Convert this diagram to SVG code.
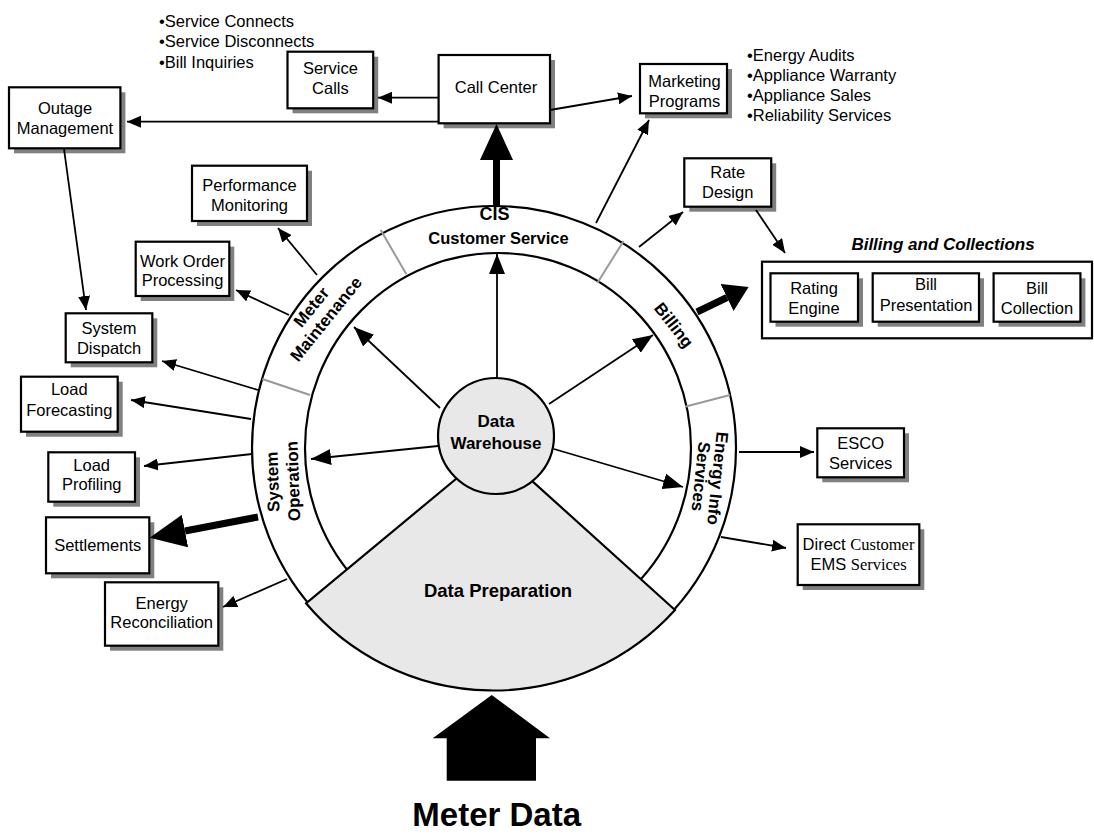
<svg xmlns="http://www.w3.org/2000/svg" width="1094" height="835" viewBox="0 0 1094 835">
<style>
.bx{fill:#fff;stroke:#000;stroke-width:2.2}
.sh{fill:#808080}
.t{font-family:"Liberation Sans",Arial,sans-serif;font-size:16.5px;text-anchor:middle;fill:#000}
.bl{font-family:"Liberation Sans",Arial,sans-serif;font-size:16.5px;fill:#000}
.b{font-weight:bold}
.rl{font-family:"Liberation Sans",Arial,sans-serif;font-size:17px;font-weight:bold;text-anchor:middle}
.ln{stroke:#000;stroke-width:1.8;fill:none}
.dv{stroke:#999;stroke-width:2}
.ring{fill:#fff;stroke:#000;stroke-width:2.2}
.gr{fill:#e8e8e8;stroke:#000;stroke-width:2.2}
</style>
<defs>
<marker id="ah" viewBox="0 0 14 12" refX="14" refY="6" markerWidth="14" markerHeight="12" markerUnits="userSpaceOnUse" orient="auto"><path d="M0,0 L14,6 L0,12 z"/></marker>
<marker id="ahL" viewBox="0 0 20 16" refX="20" refY="8" markerWidth="20" markerHeight="16" markerUnits="userSpaceOnUse" orient="auto"><path d="M0,0 L20,8 L0,16 z"/></marker>
<marker id="big" viewBox="0 0 36 33" refX="0" refY="16.5" markerWidth="36" markerHeight="33" markerUnits="userSpaceOnUse" orient="auto"><path d="M0,0 L36,16.5 L0,33 z"/></marker>
<marker id="mid" viewBox="0 0 24 30" refX="0" refY="15" markerWidth="24" markerHeight="30" markerUnits="userSpaceOnUse" orient="auto"><path d="M0,0 L24,15 L0,30 z"/></marker>
</defs>
<rect width="1094" height="835" fill="#fff"/>

<!-- wheel -->
<g id="wheel">
<circle class="ring" cx="494" cy="448" r="242"/>
<ellipse class="ring" cx="498" cy="448" rx="193" ry="195"/>
<line class="dv" x1="380.7" y1="230" x2="406.4" y2="274.3"/>
<line class="dv" x1="623.6" y1="241" x2="597.5" y2="282.7"/>
<line class="dv" x1="262.3" y1="379" x2="310" y2="395"/>
<line class="dv" x1="730" y1="395" x2="685" y2="406.7"/>
</g>
<g id="data-preparation">
<path class="gr" d="M494.5,447 L306,603.3 A245 245 0 0 0 675,610 Z"/>
<text class="t b" x="498" y="597" style="font-size:18.5px">Data Preparation</text>
</g>
<g id="data-warehouse">
<circle class="gr" cx="496" cy="436" r="58"/>
<text class="t b" x="496" y="426.5" style="font-size:17px">Data</text>
<text class="t b" x="496" y="448.5" style="font-size:17px">Warehouse</text>
</g>
<g id="ring-labels">
<text class="rl" x="494.5" y="219.5" style="font-size:18px">CIS</text>
<text class="rl" x="498.5" y="244" style="font-size:16.5px">Customer Service</text>
<g transform="translate(318.5,313) rotate(-51)"><text class="rl" x="0" y="-3.5">Meter</text><text class="rl" x="0" y="15.5">Maintenance</text></g>
<g transform="translate(674,325) rotate(52)"><text class="rl" x="0" y="6">Billing</text></g>
<g transform="translate(282.7,481.5) rotate(-92)"><text class="rl" x="0" y="-4.2">System</text><text class="rl" x="0" y="16.2">Operation</text></g>
<g transform="translate(709.5,477.5) rotate(96)"><text class="rl" x="0" y="-2.5">Energy Info</text><text class="rl" x="0" y="14.5">Services</text></g>
</g>

<!-- nodes -->
<g id="service-calls"><rect class="sh" x="292.5" y="56.7" width="85.7" height="56.6"/><rect class="bx" x="287.5" y="51.7" width="85.7" height="56.6"/><text class="t" x="330.4" y="74.3">Service</text><text class="t" x="330.4" y="94.3">Calls</text></g>
<g id="call-center"><rect class="sh" x="443.6" y="60" width="111.4" height="68.3"/><rect class="bx" x="438.6" y="55" width="111.4" height="68.3"/><text class="t" x="496" y="93.3">Call Center</text></g>
<g id="outage-management"><rect class="sh" x="14" y="92.3" width="111.4" height="61"/><rect class="bx" x="9" y="87.3" width="111.4" height="61"/><text class="t" x="65" y="114.3">Outage</text><text class="t" x="65" y="133.7">Management</text></g>
<g id="marketing-programs"><rect class="sh" x="645" y="69" width="87" height="49.3"/><rect class="bx" x="640" y="64" width="87" height="49.3"/><text class="t" x="684.5" y="86.7">Marketing</text><text class="t" x="684.5" y="106.7">Programs</text></g>
<g id="rate-design"><rect class="sh" x="689.3" y="163.3" width="86.9" height="48.4"/><rect class="bx" x="684.3" y="158.3" width="86.9" height="48.4"/><text class="t" x="727.7" y="177.7">Rate</text><text class="t" x="727.7" y="198.3">Design</text></g>
<g id="billing-collections">
<text class="t b" x="943" y="249.5" style="font-size:17px;font-style:italic">Billing and Collections</text>
<rect class="bx" x="762" y="261.7" width="330" height="76.6"/>
<g id="rating-engine"><rect class="sh" x="775.5" y="278.3" width="87.5" height="48.4"/><rect class="bx" x="770.5" y="273.3" width="87.5" height="48.4"/><text class="t" x="814" y="293.7">Rating</text><text class="t" x="814" y="314.3">Engine</text></g>
<g id="bill-presentation"><rect class="sh" x="877.7" y="278.3" width="106.3" height="48.4"/><rect class="bx" x="872.7" y="273.3" width="106.3" height="48.4"/><text class="t" x="926" y="290">Bill</text><text class="t" x="926" y="311">Presentation</text></g>
<g id="bill-collection"><rect class="sh" x="998.6" y="278.3" width="86.8" height="48.4"/><rect class="bx" x="993.6" y="273.3" width="86.8" height="48.4"/><text class="t" x="1037" y="293.7">Bill</text><text class="t" x="1037" y="314.3">Collection</text></g>
</g>
<g id="performance-monitoring"><rect class="sh" x="197" y="170.7" width="115" height="55.3"/><rect class="bx" x="192" y="165.7" width="115" height="55.3"/><text class="t" x="249.5" y="191">Performance</text><text class="t" x="249.5" y="211">Monitoring</text></g>
<g id="work-order-processing"><rect class="sh" x="140.7" y="246.7" width="93.6" height="54.3"/><rect class="bx" x="135.7" y="241.7" width="93.6" height="54.3"/><text class="t" x="182.5" y="266.7">Work Order</text><text class="t" x="182.5" y="286">Processing</text></g>
<g id="system-dispatch"><rect class="sh" x="70.7" y="318.3" width="86.6" height="49"/><rect class="bx" x="65.7" y="313.3" width="86.6" height="49"/><text class="t" x="109" y="334.3">System</text><text class="t" x="109" y="354.3">Dispatch</text></g>
<g id="load-forecasting"><rect class="sh" x="26" y="381.7" width="96.7" height="55"/><rect class="bx" x="21" y="376.7" width="96.7" height="55"/><text class="t" x="69.3" y="395.3">Load</text><text class="t" x="69.3" y="416">Forecasting</text></g>
<g id="load-profiling"><rect class="sh" x="53.3" y="457.3" width="86.7" height="49.4"/><rect class="bx" x="48.3" y="452.3" width="86.7" height="49.4"/><text class="t" x="91.7" y="471">Load</text><text class="t" x="91.7" y="490.3">Profiling</text></g>
<g id="settlements"><rect class="sh" x="51" y="522.3" width="103.3" height="56"/><rect class="bx" x="46" y="517.3" width="103.3" height="56"/><text class="t" x="97.7" y="551">Settlements</text></g>
<g id="energy-reconciliation"><rect class="sh" x="110" y="587.3" width="113.3" height="63.4"/><rect class="bx" x="105" y="582.3" width="113.3" height="63.4"/><text class="t" x="161.7" y="609.3">Energy</text><text class="t" x="161.7" y="628.3">Reconciliation</text></g>
<g id="esco-services"><rect class="sh" x="822.3" y="433.3" width="86.7" height="49"/><rect class="bx" x="817.3" y="428.3" width="86.7" height="49"/><text class="t" x="860.7" y="449.3">ESCO</text><text class="t" x="860.7" y="468.7">Services</text></g>
<g id="direct-customer-ems"><rect class="sh" x="802.7" y="529.3" width="121.6" height="60.7"/><rect class="bx" x="797.7" y="524.3" width="121.6" height="60.7"/><text class="t" x="858.5" y="550.3">Direct <tspan style="font-family:'Liberation Serif','Times New Roman',serif">Customer</tspan></text><text class="t" x="858.5" y="570.3">EMS <tspan style="font-family:'Liberation Serif','Times New Roman',serif">Services</tspan></text></g>

<g id="bullets-left">
<text class="bl" x="159" y="26.7">•Service Connects</text>
<text class="bl" x="159" y="46.7">•Service Disconnects</text>
<text class="bl" x="159" y="67.7">•Bill Inquiries</text>
</g>
<g id="bullets-right">
<text class="bl" x="747" y="61">•Energy Audits</text>
<text class="bl" x="747" y="81">•Appliance Warranty</text>
<text class="bl" x="747" y="101">•Appliance Sales</text>
<text class="bl" x="747" y="121">•Reliability Services</text>
</g>

<!-- connectors -->
<g id="connectors">
<line class="ln" x1="438.6" y1="97.7" x2="378" y2="97.7" marker-end="url(#ah)"/>
<line class="ln" x1="438.6" y1="121.7" x2="127" y2="121.7" marker-end="url(#ah)"/>
<line class="ln" x1="550" y1="110" x2="632" y2="96" marker-end="url(#ah)"/>
<line class="ln" x1="64" y1="149" x2="86" y2="310" marker-end="url(#ah)"/>
<line class="ln" x1="596" y1="223" x2="649" y2="120" marker-end="url(#ah)"/>
<line class="ln" x1="639" y1="247" x2="683" y2="212" marker-end="url(#ah)"/>
<line class="ln" x1="756" y1="210" x2="785" y2="253" marker-end="url(#ah)"/>
<line class="ln" x1="317" y1="275" x2="278" y2="228" marker-end="url(#ah)"/>
<line class="ln" x1="289" y1="315" x2="236" y2="290" marker-end="url(#ah)"/>
<line class="ln" x1="258" y1="390" x2="162" y2="361" marker-end="url(#ah)"/>
<line class="ln" x1="251" y1="419" x2="131" y2="400" marker-end="url(#ah)"/>
<line class="ln" x1="252" y1="454" x2="144" y2="466" marker-end="url(#ah)"/>
<line class="ln" x1="287" y1="579" x2="223" y2="607" marker-end="url(#ah)"/>
<line class="ln" x1="739" y1="452" x2="814" y2="452" marker-end="url(#ah)"/>
<line class="ln" x1="721" y1="537" x2="786" y2="548" marker-end="url(#ah)"/>
<line class="ln" x1="497" y1="378" x2="497" y2="254" marker-end="url(#ahL)"/>
<line class="ln" x1="440" y1="408" x2="354" y2="327" marker-end="url(#ahL)"/>
<line class="ln" x1="549" y1="404" x2="653" y2="335" marker-end="url(#ahL)"/>
<line class="ln" x1="438" y1="446" x2="311" y2="459" marker-end="url(#ahL)"/>
<line class="ln" x1="554" y1="449" x2="683" y2="487" marker-end="url(#ahL)"/>
<line stroke="#000" stroke-width="7" x1="496.5" y1="206" x2="496.5" y2="160" marker-end="url(#big)"/>
<line stroke="#000" stroke-width="7" x1="258" y1="517" x2="185" y2="531" marker-end="url(#big)"/>
<line stroke="#000" stroke-width="7" x1="697" y1="312" x2="727" y2="297.5" marker-end="url(#mid)"/>
</g>

<g id="meter-data">
<path d="M491.7,695 L432.7,738.3 L446.7,738.3 L446.7,780.7 L536,780.7 L536,738.3 L550,738.3 Z" fill="#000"/>
<text class="t b" x="496.7" y="826" style="font-size:33px">Meter Data</text>
</g>
</svg>
